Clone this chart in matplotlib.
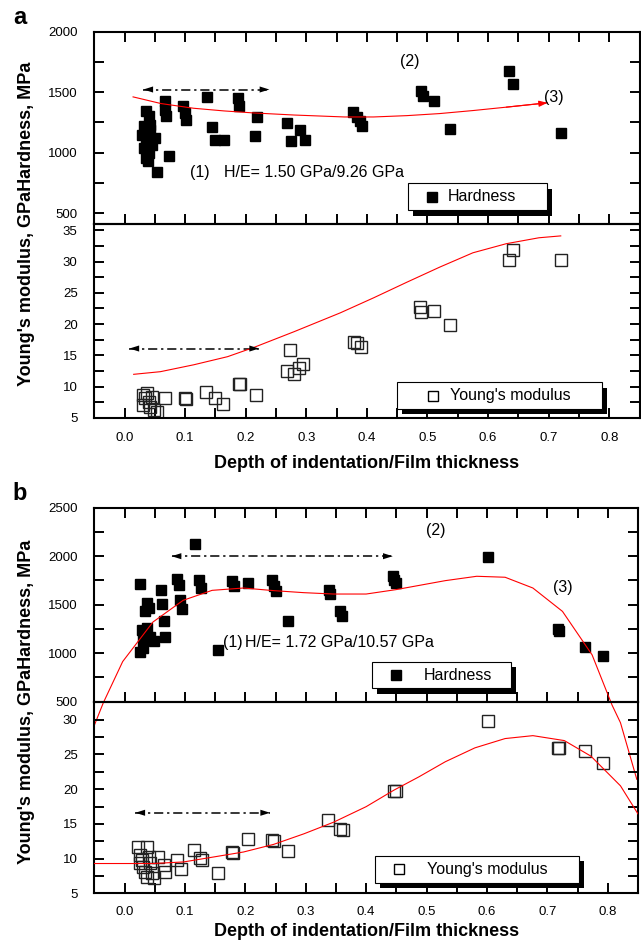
import matplotlib.pyplot as plt
from matplotlib.patches import Rectangle
from matplotlib.lines import Line2D
from matplotlib.ticker import MultipleLocator, FormatStrFormatter

plt.rcParams['font.family'] = ['Liberation Sans', 'DejaVu Sans']

# ---- panel a data ----
a_hard_x = [0.036, 0.040, 0.0425, 0.0315, 0.029, 0.036, 0.051, 0.045, 0.0315, 0.040, 0.036, 0.039,
            0.054, 0.0425, 0.073, 0.066, 0.067, 0.069, 0.097, 0.099, 0.102, 0.136, 0.145, 0.150,
            0.164, 0.188, 0.189, 0.218, 0.216, 0.268, 0.275, 0.290, 0.297, 0.377, 0.383, 0.388,
            0.392, 0.489, 0.492, 0.510, 0.537, 0.634, 0.642, 0.720]
a_hard_y = [1348, 1301, 1231, 1218, 1148, 1107, 1121, 1065, 1038, 996, 955, 927,
            844, 1190, 969, 1425, 1356, 1301, 1384, 1328, 1273, 1458, 1212, 1107,
            1107, 1453, 1384, 1292, 1135, 1245, 1093, 1190, 1107, 1334, 1295, 1259,
            1218, 1508, 1467, 1425, 1196, 1674, 1564, 1162]
a_mod_x = [0.030, 0.034, 0.037, 0.040, 0.0425, 0.048, 0.054, 0.045, 0.031, 0.067, 0.099, 0.101,
           0.135, 0.149, 0.162, 0.189, 0.191, 0.217, 0.273, 0.268, 0.279, 0.288, 0.294, 0.378,
           0.383, 0.390, 0.487, 0.490, 0.510, 0.537, 0.634, 0.642, 0.720]
a_mod_y = [8.66, 8.13, 8.93, 7.6, 6.8, 6.25, 5.98, 8.4, 7.06, 8.13, 8.13, 8.0,
           9.2, 8.23, 7.2, 10.5, 10.4, 8.66, 15.8, 12.5, 12.1, 13.05, 13.6, 17.2,
           16.96, 16.4, 22.7, 21.9, 22.15, 19.8, 30.3, 31.9, 30.2]
a_hard_fit_x = [0.014, 0.06, 0.114, 0.164, 0.214, 0.28, 0.363, 0.411, 0.466, 0.52, 0.575, 0.63, 0.698]
a_hard_fit_y = [1461, 1406, 1367, 1345, 1328, 1311, 1295, 1295, 1306, 1323, 1348, 1376, 1412]
a_mod_fit_x = [0.015, 0.059, 0.114, 0.170, 0.214, 0.280, 0.356, 0.411, 0.466, 0.52, 0.575, 0.63, 0.684, 0.72]
a_mod_fit_y = [11.98, 12.4, 13.5, 14.8, 16.3, 18.8, 21.8, 24.2, 26.7, 29.1, 31.4, 32.85, 33.8, 34.1]

# ---- panel b data ----
b_hard_x = [0.026, 0.037, 0.040, 0.034, 0.061, 0.062, 0.066, 0.067, 0.029, 0.031, 0.026, 0.037,
            0.0425, 0.048, 0.031, 0.087, 0.090, 0.092, 0.095, 0.116, 0.124, 0.127, 0.154, 0.178,
            0.181, 0.204, 0.244, 0.247, 0.250, 0.270, 0.338, 0.340, 0.357, 0.360, 0.444, 0.446,
            0.449, 0.601, 0.717, 0.720, 0.762, 0.792]
b_hard_y = [1717, 1517, 1466, 1431, 1648, 1507, 1328, 1172, 1241, 1155, 1017, 1259,
            1172, 1121, 1052, 1769, 1707, 1552, 1459, 2128, 1759, 1672, 1034, 1741,
            1697, 1724, 1752, 1690, 1645, 1328, 1655, 1610, 1438, 1386, 1793, 1759,
            1724, 1990, 1252, 1224, 1059, 973]
b_mod_x = [0.023, 0.026, 0.029, 0.031, 0.034, 0.037, 0.040, 0.0425, 0.045, 0.048, 0.037, 0.026,
           0.056, 0.065, 0.067, 0.087, 0.093, 0.115, 0.125, 0.128, 0.154, 0.178, 0.180, 0.204,
           0.244, 0.247, 0.271, 0.337, 0.357, 0.362, 0.446, 0.449, 0.601, 0.717, 0.720, 0.762, 0.792]
b_mod_y = [11.67, 10.5, 9.76, 8.8, 8.1, 11.67, 10.24, 9.3, 7.86, 7.14, 7.4, 9.3,
           10.24, 9.05, 8.1, 9.76, 8.57, 11.3, 10.14, 9.86, 7.86, 10.95, 10.8, 12.76,
           12.7, 12.5, 11.1, 15.57, 14.3, 14.1, 19.76, 19.67, 29.76, 25.95, 25.86, 25.48, 23.7]
b_hard_fit_x = [-0.05, -0.035, -0.003, 0.047, 0.097, 0.145, 0.197, 0.247, 0.297, 0.346, 0.4,
                0.449, 0.531, 0.583, 0.63, 0.676, 0.725, 0.774, 0.807, 0.821, 0.848]
b_hard_fit_y = [256, 490, 914, 1321, 1545, 1648, 1672, 1645, 1624, 1610, 1610,
                1655, 1748, 1793, 1783, 1672, 1431, 983, 466, 283, -300]
b_mod_fit_x = [-0.05, 0.048, 0.098, 0.148, 0.197, 0.247, 0.297, 0.346, 0.4, 0.446, 0.487,
               0.531, 0.58, 0.63, 0.676, 0.728, 0.772, 0.821, 0.85]
b_mod_fit_y = [9.29, 9.29, 9.52, 10.24, 10.95, 12.05, 13.57, 15.24, 17.48, 19.86, 21.76,
               23.95, 25.95, 27.29, 27.71, 27.0, 24.76, 20.48, 16.43]

W, H = 641, 941


def fx(px):
    return px / W


def fy(py):
    return 1 - py / H


def make_axes(fig, left, right, top, bottom):
    return fig.add_axes([fx(left), fy(bottom), (right - left) / W, (bottom - top) / H])


def style(ax, ylim, ymajor, yminor, top_panel, xpad=10):
    ax.set_xlim(-0.05, 0.85)
    ax.set_ylim(*ylim)
    ax.xaxis.set_major_locator(MultipleLocator(0.1))
    ax.xaxis.set_minor_locator(MultipleLocator(0.05))
    ax.xaxis.set_major_formatter(FormatStrFormatter('%.1f'))
    ax.yaxis.set_major_locator(MultipleLocator(ymajor))
    ax.yaxis.set_minor_locator(MultipleLocator(yminor))
    ax.yaxis.set_major_formatter(FormatStrFormatter('%d'))
    ax.tick_params(which='both', direction='in', length=7, width=1.4, right=True,
                   top=top_panel, bottom=True, labelbottom=not top_panel, labelsize=9.5)
    ax.tick_params(axis='x', pad=xpad)
    ax.tick_params(axis='y', pad=12)
    for s in ax.spines.values():
        s.set_linewidth(1.5)
    ax.patch.set_visible(False)


def dd_arrow(ax, x0, x1, y):
    ax.plot([x0, x1], [y, y], color='k', lw=1.1, linestyle=(0, (6, 2.5, 1.5, 2.5)))
    for a, b in ((x0, x1), (x1, x0)):
        ax.annotate('', xy=(a, y), xytext=(a + (b - a) * 0.08, y),
                    arrowprops=dict(arrowstyle='-|>,head_length=0.7,head_width=0.22',
                                    fc='k', ec='k', lw=0, shrinkA=0, shrinkB=0))


def box_legend(fig, x0, y0, x1, y1, mx, tx, label, filled):
    w, h = (x1 - x0) / W, (y1 - y0) / H
    fig.add_artist(Rectangle((fx(x0 + 5), fy(y1 + 5.5)), w, h, transform=fig.transFigure,
                             fc='k', ec='k', lw=0, zorder=5))
    fig.add_artist(Rectangle((fx(x0), fy(y1)), w, h, transform=fig.transFigure,
                             fc='white', ec='k', lw=0.8, zorder=6))
    yc = (y0 + y1) / 2
    if filled:
        m = Line2D([fx(mx)], [fy(yc)], transform=fig.transFigure, marker='s', ms=6.7,
                   mfc='k', mec='k', ls='none', zorder=7)
    else:
        m = Line2D([fx(mx)], [fy(yc)], transform=fig.transFigure, marker='s', ms=7.5,
                   mfc='white', mec='k', mew=1.0, ls='none', zorder=7)
    fig.add_artist(m)
    fig.text(fx(tx), fy(yc), label, fontsize=11.5, va='center', ha='left', zorder=8)


fig = plt.figure(figsize=(6.41, 9.41), dpi=100)

# ---------------- panel a ----------------
ax1 = make_axes(fig, 94.3, 639.5, 31.7, 224)
ax2 = make_axes(fig, 94.3, 639.5, 224, 418)
style(ax1, (410, 2000), 500, 250, True)
style(ax2, (5, 36), 5, 2.5, False)

ax1.plot(a_hard_x, a_hard_y, 's', ms=7, color='k', zorder=2)
ax1.plot(a_hard_fit_x, a_hard_fit_y, color='red', lw=0.8, zorder=3)
ax1.annotate('', xy=(a_hard_fit_x[-1], a_hard_fit_y[-1]), xytext=(a_hard_fit_x[-2], a_hard_fit_y[-2]),
             arrowprops=dict(arrowstyle='-|>,head_length=0.5,head_width=0.18', color='red',
                             lw=0.8, shrinkA=0, shrinkB=0))
dd_arrow(ax1, 0.031, 0.239, 1522)
ax1.text(0.47, 1752, '(2)', fontsize=11.5, ha='center', va='center')
ax1.text(0.709, 1458, '(3)', fontsize=11.5, ha='center', va='center')
ax1.text(0.124, 835, '(1)', fontsize=11.5, ha='center', va='center')
ax1.text(0.164, 835, 'H/E= 1.50 GPa/9.26 GPa', fontsize=11.5, ha='left', va='center')

ax2.plot(a_mod_x, a_mod_y, 's', ms=8.5, mfc='none', mec='#222222', mew=1.0, zorder=2)
ax2.plot(a_mod_fit_x, a_mod_fit_y, color='red', lw=0.8, zorder=3)
dd_arrow(ax2, 0.008, 0.222, 16.1)
ax2.set_xlabel('Depth of indentation/Film thickness', fontsize=13, fontweight='bold', labelpad=8)

box_legend(fig, 408, 183.3, 546.7, 210, 431.7, 447.3, 'Hardness', True)
box_legend(fig, 397.3, 382.3, 602.3, 409, 433.3, 450, "Young's modulus", False)

fig.text(fx(27), fy(224), "Young's modulus, GPaHardness, MPa", rotation=90,
         ha='center', va='center', fontsize=13, fontweight='bold')
fig.text(fx(20), fy(17), 'a', fontsize=17, fontweight='bold', ha='center', va='center')

# ---------------- panel b ----------------
ax3 = make_axes(fig, 94.3, 638, 507.7, 701.7)
ax4 = make_axes(fig, 94.3, 638, 701.7, 893.3)
style(ax3, (500, 2500), 500, 250, True)
style(ax4, (5, 32.6), 5, 2.5, False, xpad=9)

ax3.plot(b_hard_x, b_hard_y, 's', ms=7, color='k', zorder=2)
ax3.plot(b_hard_fit_x, b_hard_fit_y, color='red', lw=0.8, zorder=3, clip_on=False)
dd_arrow(ax3, 0.078, 0.444, 2000)
ax3.text(0.516, 2265, '(2)', fontsize=11.5, ha='center', va='center')
ax3.text(0.726, 1674, '(3)', fontsize=11.5, ha='center', va='center')
ax3.text(0.18, 1107, '(1)', fontsize=11.5, ha='center', va='center')
ax3.text(0.2, 1107, 'H/E= 1.72 GPa/10.57 GPa', fontsize=11.5, ha='left', va='center')

ax4.plot(b_mod_x, b_mod_y, 's', ms=8.8, mfc='none', mec='#222222', mew=1.0, zorder=2)
ax4.plot(b_mod_fit_x, b_mod_fit_y, color='red', lw=0.8, zorder=3)
dd_arrow(ax4, 0.018, 0.241, 16.6)
ax4.set_xlabel('Depth of indentation/Film thickness', fontsize=13, fontweight='bold', labelpad=3.5)

box_legend(fig, 371.7, 661.7, 511, 688.3, 396, 423.3, 'Hardness', True)
box_legend(fig, 375, 855.7, 579.3, 882.7, 399, 426.7, "Young's modulus", False)

fig.text(fx(27), fy(702), "Young's modulus, GPaHardness, MPa", rotation=90,
         ha='center', va='center', fontsize=13, fontweight='bold')
fig.text(fx(20), fy(494), 'b', fontsize=17, fontweight='bold', ha='center', va='center')

fig.savefig('out.png', dpi=100, facecolor='white')
